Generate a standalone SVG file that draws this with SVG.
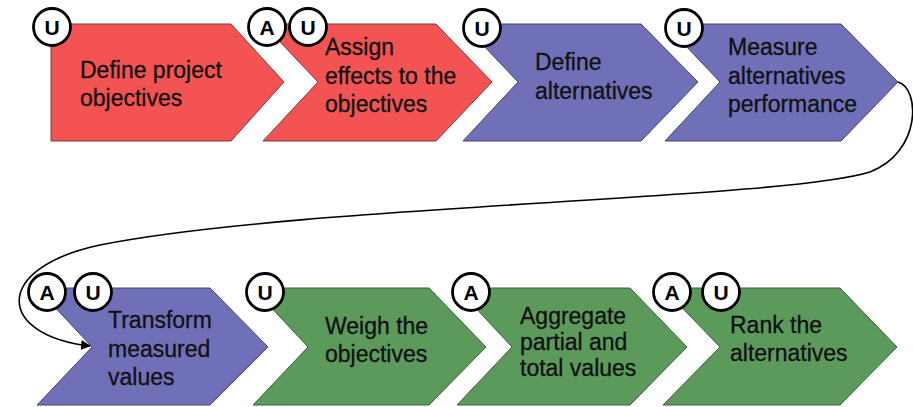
<svg xmlns="http://www.w3.org/2000/svg" width="913" height="407" viewBox="0 0 913 407">
<style>
.red{fill:#f45353;stroke:#7a3a3a;stroke-width:1}
.blue{fill:#7070b8;stroke:#45456e;stroke-width:1}
.green{fill:#5c9a5c;stroke:#3a5e3a;stroke-width:1}
.lbl{font-family:"Liberation Sans",Arial,sans-serif;font-size:23px;fill:#111;stroke:#111;stroke-width:0.3}
.badge circle{fill:#fff;stroke:#000;stroke-width:2.8}
.badge text{font-family:"Liberation Sans",Arial,sans-serif;font-size:21px;font-weight:bold;fill:#000;text-anchor:middle}
.conn{fill:none;stroke:#000;stroke-width:1.6}
</style>
<defs>
<marker id="ah" viewBox="0 0 10 10" refX="9" refY="5" markerWidth="10" markerHeight="10" markerUnits="userSpaceOnUse" orient="auto">
<path d="M0,0 L10,5 L0,10 z" fill="#000"/>
</marker>
</defs>

<g id="n1">
<polygon class="red" points="51,24 231,24 284,82 231,141 51,141"/>
<text class="lbl"><tspan x="80" y="78">Define project</tspan><tspan x="80" y="106">objectives</tspan></text>
<g class="badge"><circle cx="52" cy="27" r="18.5"/><text x="52" y="34.5">U</text></g>
</g>

<g id="n2">
<polygon class="red" points="263,24 436,24 492,82 436,141 263,141 318,82"/>
<text class="lbl"><tspan x="325" y="55">Assign</tspan><tspan x="325" y="84">effects to the</tspan><tspan x="325" y="112">objectives</tspan></text>
<g class="badge"><circle cx="267" cy="27" r="18.5"/><text x="267" y="34.5">A</text></g>
<g class="badge"><circle cx="308" cy="27" r="18.5"/><text x="308" y="34.5">U</text></g>
</g>

<g id="n3">
<polygon class="blue" points="463,24 641,24 698,82 641,141 463,141 518,82"/>
<text class="lbl"><tspan x="535" y="70">Define</tspan><tspan x="535" y="99">alternatives</tspan></text>
<g class="badge"><circle cx="482" cy="28" r="18.5"/><text x="482" y="35.5">U</text></g>
</g>

<g id="n4">
<polygon class="blue" points="665,24 841,24 898,82 841,141 665,141 720,82"/>
<text class="lbl"><tspan x="728" y="55">Measure</tspan><tspan x="728" y="84">alternatives</tspan><tspan x="728" y="112">performance</tspan></text>
<g class="badge"><circle cx="684" cy="28" r="18.5"/><text x="684" y="35.5">U</text></g>
</g>

<g id="n5">
<polygon class="blue" points="37,288 210,288 268,347 210,405 37,405 92,347"/>
<text class="lbl"><tspan x="108" y="328">Transform</tspan><tspan x="108" y="357">measured</tspan><tspan x="108" y="385">values</tspan></text>
<g class="badge"><circle cx="47" cy="292" r="18.5"/><text x="47" y="299.5">A</text></g>
<g class="badge"><circle cx="93" cy="292" r="18.5"/><text x="93" y="299.5">U</text></g>
</g>

<g id="n6">
<polygon class="green" points="253,288 429,288 486,347 429,405 253,405 308,347"/>
<text class="lbl"><tspan x="325" y="334">Weigh the</tspan><tspan x="325" y="362">objectives</tspan></text>
<g class="badge"><circle cx="265" cy="292" r="18.5"/><text x="265" y="299.5">U</text></g>
</g>

<g id="n7">
<polygon class="green" points="457,288 630,288 687,347 630,405 457,405 512,347"/>
<text class="lbl"><tspan x="520" y="324">Aggregate</tspan><tspan x="520" y="350">partial and</tspan><tspan x="520" y="376">total values</tspan></text>
<g class="badge"><circle cx="471" cy="292" r="18.5"/><text x="471" y="299.5">A</text></g>
</g>

<g id="n8">
<polygon class="green" points="663,288 840,288 897,347 840,405 663,405 720,347"/>
<text class="lbl"><tspan x="730" y="333">Rank the</tspan><tspan x="730" y="361">alternatives</tspan></text>
<g class="badge"><circle cx="672" cy="292" r="18.5"/><text x="672" y="299.5">A</text></g>
<g class="badge"><circle cx="721" cy="292" r="18.5"/><text x="721" y="299.5">U</text></g>
</g>

<g id="connectors">
<path class="conn" marker-end="url(#ah)" d="M898,82 C920,88 922,152 870,172 C780,200 300,205 100,245 C-8,268 -4,335 90,346"/>
</g>
</svg>
